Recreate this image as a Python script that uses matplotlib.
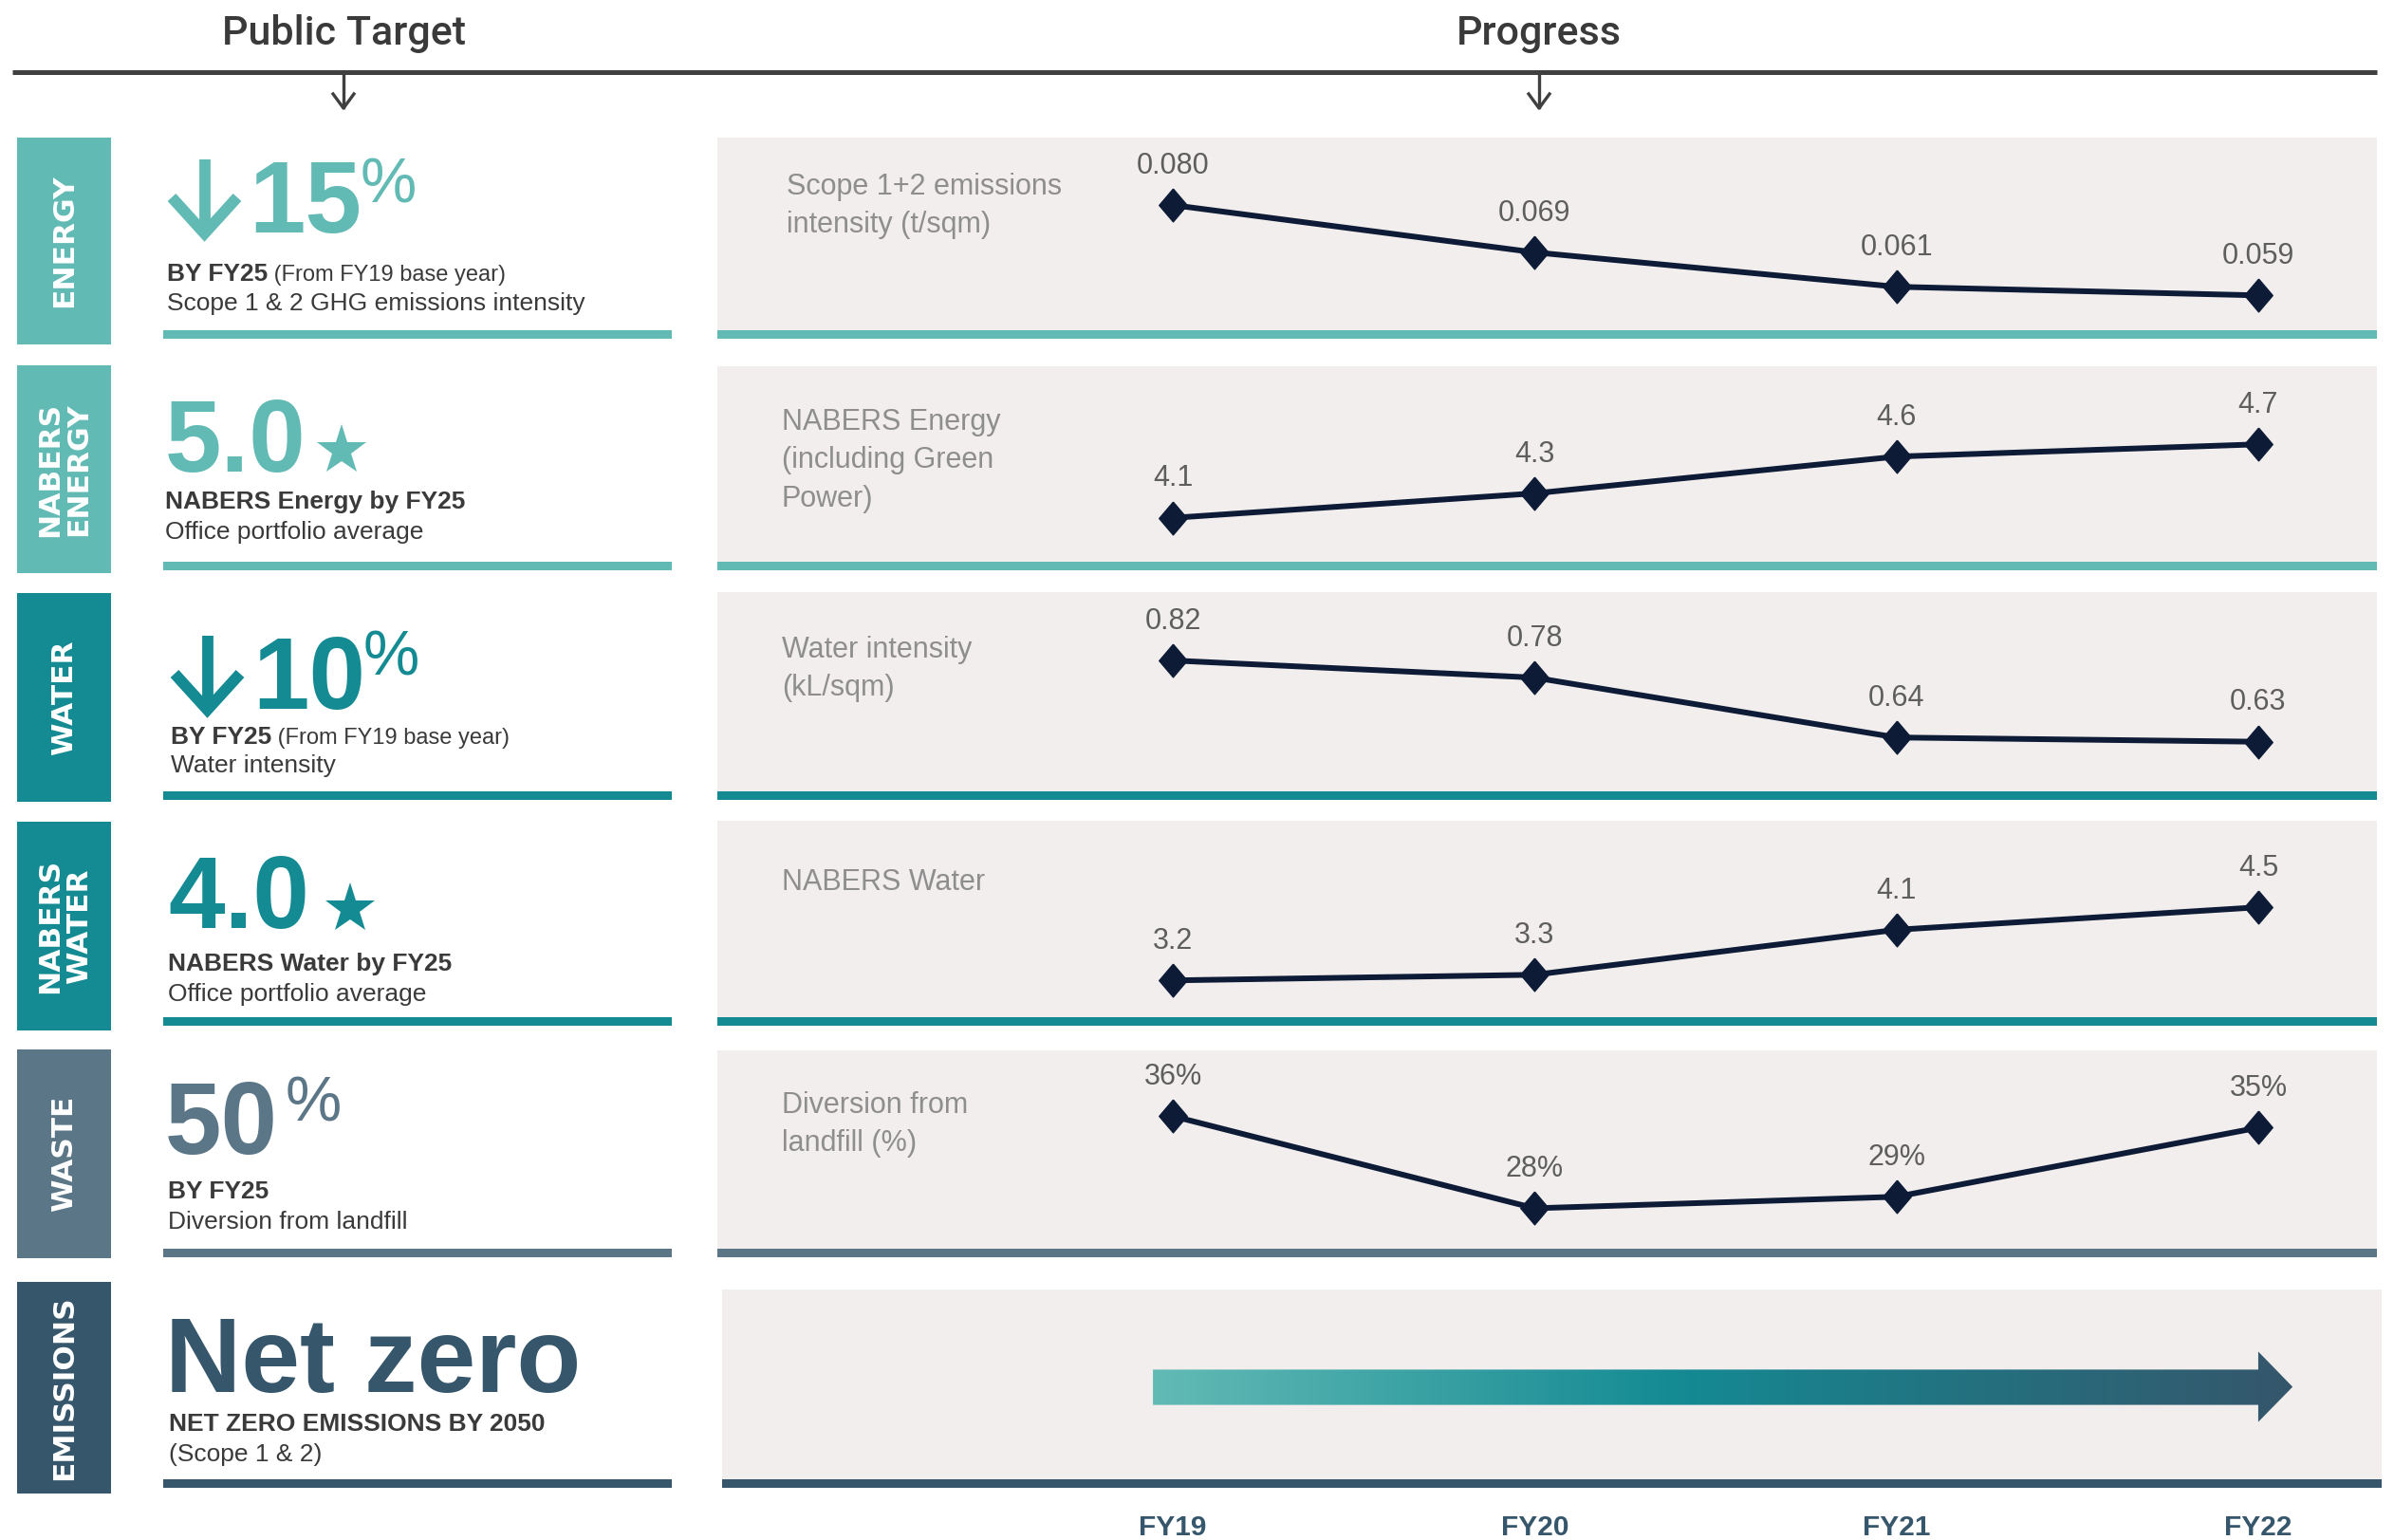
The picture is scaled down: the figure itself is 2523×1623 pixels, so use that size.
import matplotlib
matplotlib.use("Agg")
import matplotlib.pyplot as plt
import numpy as np
from matplotlib.colors import LinearSegmentedColormap
from matplotlib.patches import Rectangle, Polygon

plt.rcParams['font.family'] = ['Liberation Sans', 'DejaVu Sans']

W, H = 2523, 1623

# ---- data ----
years = ["FY19", "FY20", "FY21", "FY22"]
scope12 = [0.080, 0.069, 0.061, 0.059]
nabers_energy = [4.1, 4.3, 4.6, 4.7]
water = [0.82, 0.78, 0.64, 0.63]
nabers_water = [3.2, 3.3, 4.1, 4.5]
diversion = [36, 28, 29, 35]
series = [scope12, nabers_energy, water, nabers_water, diversion]
label_fmt = ["{:.3f}", "{:.1f}", "{:.2f}", "{:.1f}", "{:.0f}%"]
panel_titles = ["Scope 1+2 emissions\nintensity (t/sqm)",
                "NABERS Energy\n(including Green\nPower)",
                "Water intensity\n(kL/sqm)",
                "NABERS Water",
                "Diversion from\nlandfill (%)"]
row_names = ["ENERGY", "NABERS\nENERGY", "WATER", "NABERS\nWATER", "WASTE", "EMISSIONS"]
sub_lines = [
    [("BY FY25", 19, "bold"), (" (From FY19 base year)", 17, "normal")],
    [("NABERS Energy by FY25", 19, "bold")],
    [("BY FY25", 19, "bold"), (" (From FY19 base year)", 17, "normal")],
    [("NABERS Water by FY25", 19, "bold")],
    [("BY FY25", 19, "bold")],
    [("NET ZERO EMISSIONS BY 2050", 19, "bold")],
]
sub_lines2 = ["Scope 1 & 2 GHG emissions intensity", "Office portfolio average", "Water intensity",
              "Office portfolio average", "Diversion from landfill", "(Scope 1 & 2)"]

# ---- style / layout (pixels) ----
TEAL_L = "#62bab5"; TEAL_D = "#148a93"; SLATE = "#5b7687"; NAVY = "#35566b"
BODY = "#3a3a3a"; HEAD = "#3a3a3a"; PANEL = "#f1eeed"; LINE = "#0e1b36"
row_colors = [TEAL_L, TEAL_L, TEAL_D, TEAL_D, SLATE, NAVY]
box_y = [(145, 363), (385, 604), (625, 845), (866, 1086), (1106, 1326), (1351, 1574)]
bar_y = [(348, 357), (592, 601), (834, 843), (1072, 1081), (1316, 1325), (1559, 1568)]
panel_top = [145, 386, 624, 865, 1107, 1359]
title_top = [182, 430, 670, 915, 1150]
ylims = [(0.0509, 0.0957), (3.742, 5.337), (0.514, 0.980), (2.546, 6.038), (24.49, 41.71)]
XL = (-1.259, 3.328)
PX0, PX1 = 756, 2505
base1 = [296, 536, 784, 1023, 1263, 1508]
base2 = [327, 568, 814, 1055, 1295, 1540]
textx = [176, 174, 180, 177, 177, 178]

fig = plt.figure(figsize=(W / 100, H / 100), dpi=100)
fig.patch.set_facecolor("white")
bg = fig.add_axes([0, 0, 1, 1])
bg.set_xlim(0, W); bg.set_ylim(H, 0); bg.axis("off")
rend = fig.canvas.get_renderer()

# header
bg.plot([13, 2505], [76, 76], color="#404040", lw=3.6, solid_capstyle="butt")
for cx, txt in [(362, "Public Target"), (1622, "Progress")]:
    bg.text(cx, 47, txt, fontsize=31, color=HEAD, ha="center", va="baseline",
            family=["Roboto", "Liberation Sans"], fontweight="medium")
    bg.plot([cx, cx], [79, 113], color="#404040", lw=2.4)
    bg.plot([cx - 11, cx, cx + 11], [99, 114, 99], color="#404040", lw=2.4)

# left column
for k in range(6):
    y0, y1 = box_y[k]
    c = row_colors[k]
    bg.add_patch(Rectangle((18, y0), 99, y1 - y0, color=c, lw=0))
    bg.text(68, (y0 + y1) / 2, row_names[k], rotation=90, color="white", fontsize=22.5,
            fontweight="heavy", family="DejaVu Sans", ha="center", va="center",
            multialignment="center", linespacing=1.05)
    b0, b1 = bar_y[k]
    bg.add_patch(Rectangle((172, b0), 536, b1 - b0, color=c, lw=0))
    x = textx[k]
    for txt, sz, wt in sub_lines[k]:
        t = bg.text(x, base1[k], txt, fontsize=sz, fontweight=wt, color=BODY, va="baseline", ha="left")
        x = t.get_window_extent(renderer=rend).x1
    bg.text(textx[k], base2[k], sub_lines2[k], fontsize=19, color=BODY, va="baseline", ha="left")

# big headline figures
def down_arrow(x0, x1, ytop, ytip, color):
    cx = (x0 + x1) / 2
    bg.plot([cx, cx], [ytop, ytip - 6], color=color, lw=8.5, solid_capstyle="butt")
    bg.plot([x0 + 4, cx, x1 - 4], [ytip - 40, ytip - 2, ytip - 40], color=color, lw=8.5,
            solid_joinstyle="miter", solid_capstyle="butt")

BIG = 77
down_arrow(177, 254, 168, 248, TEAL_L)
bg.text(262, 245, "15", fontsize=BIG, fontweight="bold", color=TEAL_L, va="baseline")
bg.text(380, 166, "%", fontsize=48, color=TEAL_L, va="top")
bg.text(174, 497, "5.0", fontsize=BIG, fontweight="bold", color=TEAL_L, va="baseline")
bg.plot([360], [475], marker="*", ms=40, color=TEAL_L, mew=0)
down_arrow(180, 257, 670, 750, TEAL_D)
bg.text(266, 747, "10", fontsize=BIG, fontweight="bold", color=TEAL_D, va="baseline")
bg.text(383, 663, "%", fontsize=48, color=TEAL_D, va="top")
bg.text(177, 978, "4.0", fontsize=BIG, fontweight="bold", color=TEAL_D, va="baseline")
bg.plot([369], [958], marker="*", ms=40, color=TEAL_D, mew=0)
bg.text(174, 1216, "50", fontsize=BIG, fontweight="bold", color=SLATE, va="baseline")
bg.text(301, 1134, "%", fontsize=48, color=SLATE, va="top")
bg.text(174, 1467, "Net zero", fontsize=80, fontweight="bold", color=NAVY, va="baseline")

# right panels: backgrounds and bars
for k in range(6):
    xs = PX0 + (5 if k == 5 else 0)
    b0, b1 = bar_y[k]
    bg.add_patch(Rectangle((xs, panel_top[k]), PX1 - PX0, b0 - panel_top[k], color=PANEL, lw=0))
    bg.add_patch(Rectangle((xs, b0), PX1 - PX0, b1 - b0, color=row_colors[k], lw=0))

for k in range(5):
    bg.text(824 if k else 829, title_top[k], panel_titles[k], fontsize=22, color="#8e8e8e",
            va="top", ha="left", linespacing=1.45)

diamond = [(0, 1), (0.85, 0), (0, -1), (-0.85, 0), (0, 1)]
xi = np.arange(len(years))
for k in range(5):
    top, b0 = panel_top[k], bar_y[k][0]
    ax = fig.add_axes([PX0 / W, 1 - b0 / H, (PX1 - PX0) / W, (b0 - top) / H])
    ax.patch.set_alpha(0); ax.axis("off")
    ax.plot(xi, series[k], color=LINE, lw=4.3, marker=diamond, ms=25, mfc=LINE, mec=LINE)
    for i, v in enumerate(series[k]):
        ax.annotate(label_fmt[k].format(v), (i, v), xytext=(0, 24), textcoords="offset points",
                    ha="center", va="baseline", fontsize=22, color="#5e5e5e")
    ax.set_xlim(*XL); ax.set_ylim(*ylims[k])

# emissions row: gradient arrow + year axis
top, b0 = panel_top[5], bar_y[5][0]
ax6 = fig.add_axes([PX0 / W, 1 - b0 / H, (PX1 - PX0) / W, (b0 - top) / H])
ax6.patch.set_alpha(0)
for s in ax6.spines.values():
    s.set_visible(False)
cmap = LinearSegmentedColormap.from_list("netzero", [(0, TEAL_L), (0.46, TEAL_D), (1, NAVY)])
xs0, xb = -0.055, len(years) - 1
xt = xb + 0.095
im = ax6.imshow(np.linspace(0, 1, 256).reshape(1, -1), extent=[xs0, xt, 0.30, 0.68],
                aspect="auto", cmap=cmap, zorder=2)
poly = Polygon([(xs0, 0.392), (xb, 0.392), (xb, 0.302), (xt, 0.487), (xb, 0.673), (xb, 0.578), (xs0, 0.578)],
               closed=True, facecolor="none", edgecolor="none", transform=ax6.transData)
ax6.add_patch(poly)
im.set_clip_path(poly)
ax6.set_xlim(*XL); ax6.set_ylim(0, 1)
ax6.set_yticks([])
ax6.set_xticks(xi)
ax6.set_xticklabels(years, fontsize=21.5, fontweight="bold", color=NAVY)
ax6.tick_params(axis="x", length=0, pad=27)

fig.savefig("out.png", dpi=100, facecolor="white")
